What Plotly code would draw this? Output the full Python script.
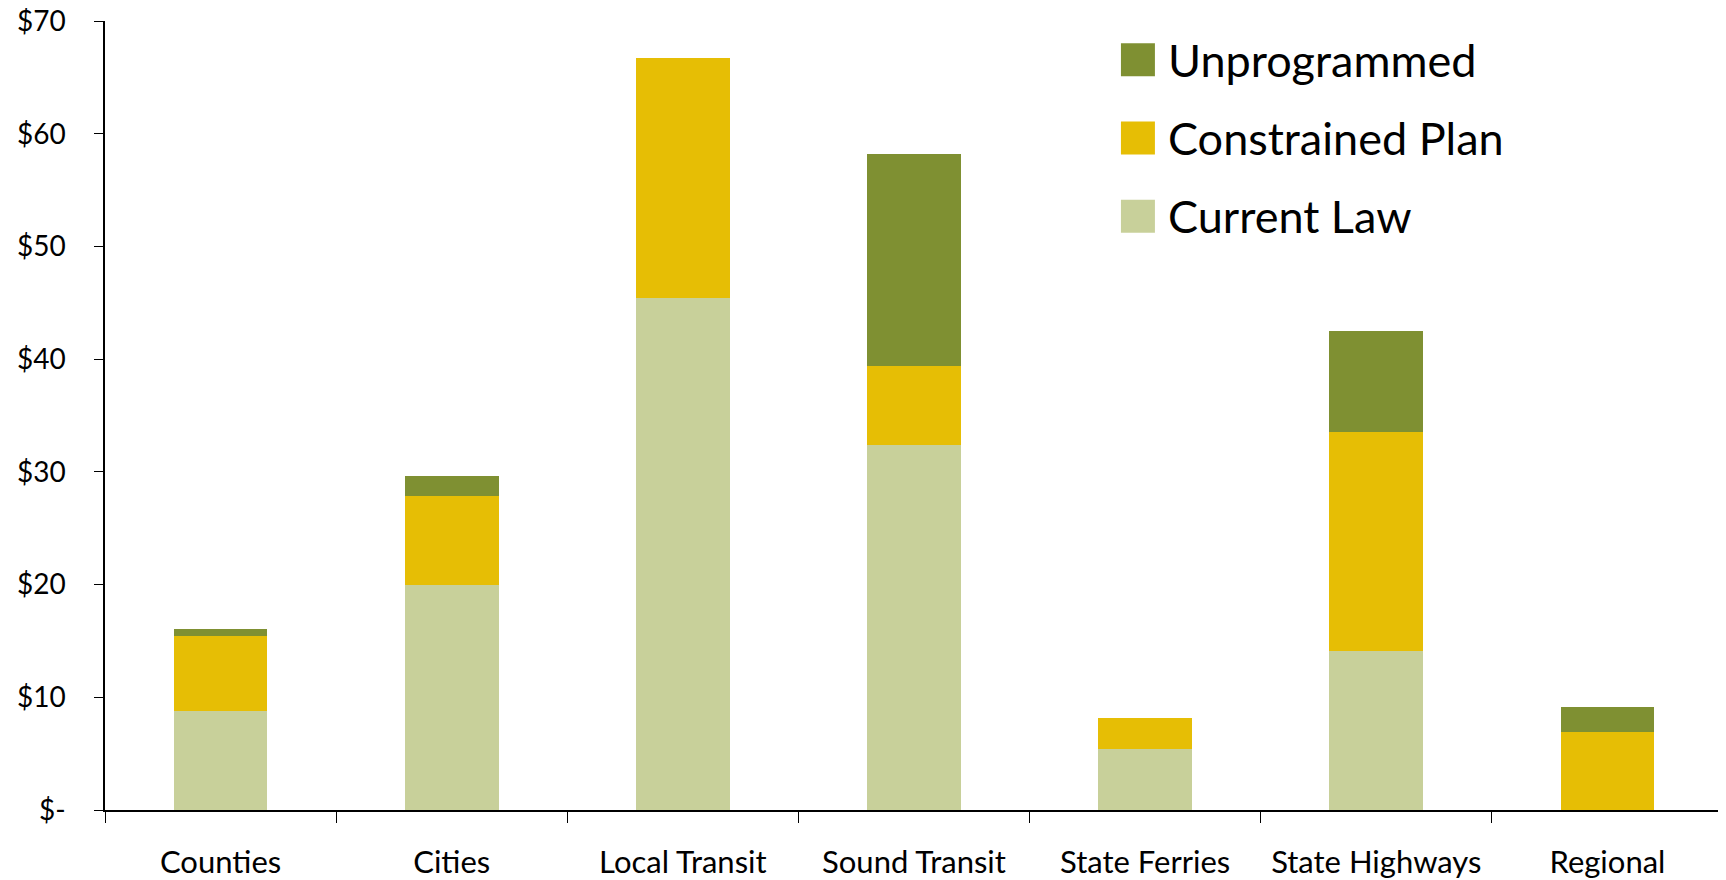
import plotly.graph_objects as go

# values in $ billions
categories = ["Counties", "Cities", "Local Transit", "Sound Transit",
              "State Ferries", "State Highways", "Regional"]
current_law = [8.8, 20.0, 45.4, 32.4, 5.4, 14.1, 0.0]
constrained_plan = [6.6, 7.9, 21.3, 7.0, 2.8, 19.4, 6.9]
unprogrammed = [0.7, 1.7, 0.0, 18.8, 0.0, 9.0, 2.2]

y_tickvals = [0, 10, 20, 30, 40, 50, 60, 70]
y_ticktext = ["$-", "$10", "$20", "$30", "$40", "$50", "$60", "$70"]

series = [
    ("Current Law", current_law, "#C8D09A"),
    ("Constrained Plan", constrained_plan, "#E6BE05"),
    ("Unprogrammed", unprogrammed, "#7F9032"),
]

FONT = "Lato, 'Open Sans', sans-serif"

fig = go.Figure()
for name, vals, color in series:
    fig.add_trace(go.Bar(
        x=categories, y=vals, name=name,
        marker=dict(color=color, line=dict(width=0)),
        showlegend=False,
    ))

# hand-drawn legend (big square swatches, like the original)
legend_rows = [("Unprogrammed", "#7F9032", 0.9509),
               ("Constrained Plan", "#E6BE05", 0.8517),
               ("Current Law", "#C8D09A", 0.7524)]
for label, color, yc in legend_rows:
    fig.add_shape(type="rect", xref="paper", yref="paper",
                  x0=0.6279, x1=0.6489, y0=yc - 0.0209, y1=yc + 0.0209,
                  fillcolor=color, line=dict(width=0))
    fig.add_annotation(text=label, xref="paper", yref="paper",
                       x=0.656, y=yc, xanchor="left", yanchor="middle",
                       showarrow=False, font=dict(size=45, color="black", family=FONT))

# page body adds an 8px margin, so the figure is 8px smaller than the window
fig.update_layout(
    barmode="stack",
    bargap=0.595,
    width=1718, height=872,
    margin=dict(l=97, r=3, t=13, b=70),
    plot_bgcolor="white", paper_bgcolor="white",
    font=dict(family=FONT, size=26, color="black"),
)
fig.update_xaxes(
    automargin=False,
    showline=True, linecolor="black", linewidth=1.5,
    ticks="outside", tickson="boundaries", ticklen=11, tickcolor="black", tickwidth=1,
    ticklabelstandoff=24, tickfont=dict(size=31),
    showgrid=False,
)
fig.update_yaxes(
    automargin=False,
    range=[0, 70], tickvals=y_tickvals, ticktext=y_ticktext,
    showline=True, linecolor="black", linewidth=1.5,
    ticks="outside", ticklen=9, tickcolor="black", tickwidth=1,
    ticklabelstandoff=23, tickfont=dict(size=28), ticklabeloverflow="allow",
    showgrid=False, zeroline=False,
)

fig.write_html("out.html")
